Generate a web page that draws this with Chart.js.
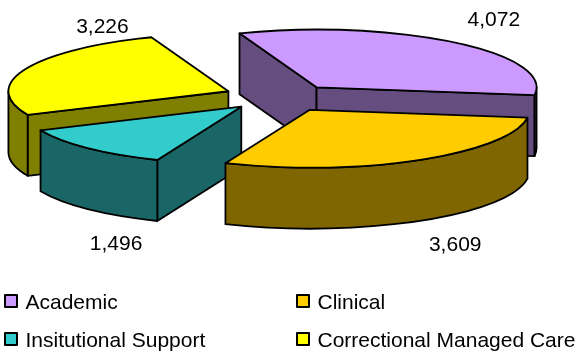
<!DOCTYPE html>
<html>
<head>
<meta charset="utf-8">
<style>
    html, body { margin: 0; padding: 0; background: #fff; }
    canvas { display: block; }
</style>
</head>
<body>
<canvas id="pie-chart" width="578" height="353"></canvas>
<script src="https://cdn.jsdelivr.net/npm/chart.js@4"></script>
<script>
let categorias = ['Academic', 'Clinical', 'Insitutional Support', 'Correctional Managed Care'];
let valores = [4072, 3609, 1496, 3226];
let coloresTapa = ['#CC99FF', '#FFCC00', '#33CCCC', '#FFFF00'];
let coloresLado = ['#664D80', '#806600', '#1A6666', '#808000'];

// back to front, so nearer slices cover the ones behind
let ordenDibujo = [0, 3, 2, 1];
// where each value label sits, relative to the middle of its slice rim
let ajusteEtiquetas = [[40, -20], [36, 85], [28, 95], [77, -42]];
// small vertical nudge per slice
let ajusteAlto = [2, 0, -1, 0];
// swatch corner for each legend entry
let posLeyenda = [[5, 295], [297, 295], [5, 333], [297, 333]];

const RADIO = 220;
const APLASTADO = 0.262;
const ALTO = 61;
const SEPARACION = 57;
const LINEA = 1.8;

const fuente = (size) => size + 'px "Liberation Sans", Arial, sans-serif';

const dibujarLados = (ctx, arc, ax, ay, i) => {
    let a0 = arc.startAngle;
    let a1 = arc.endAngle;
    let ry = RADIO * APLASTADO;
    ctx.fillStyle = coloresLado[i];

    const pared = (ang) => {
        let bx = ax + Math.cos(ang) * RADIO;
        let by = ay + Math.sin(ang) * ry;
        ctx.beginPath();
        ctx.moveTo(ax, ay);
        ctx.lineTo(bx, by);
        ctx.lineTo(bx, by + ALTO);
        ctx.lineTo(ax, ay + ALTO);
        ctx.closePath();
        ctx.fill();
        ctx.stroke();
    };

    // flat faces only show when they turn toward the viewer
    if (Math.sin(a0 - Math.PI / 2) > 0) pared(a0);
    if (Math.sin(a1 + Math.PI / 2) > 0) pared(a1);

    let ini = Math.max(a0, 0);
    let fin = Math.min(a1, Math.PI);
    if (fin > ini) {
        ctx.beginPath();
        ctx.ellipse(ax, ay, RADIO, ry, 0, ini, fin);
        ctx.ellipse(ax, ay + ALTO, RADIO, ry, 0, fin, ini, true);
        ctx.closePath();
        ctx.fill();
        ctx.stroke();
    }
};

const tartaPlugin = {
    id: 'tarta3d',
    beforeDatasetsDraw(chart) {
        let ctx = chart.ctx;
        let arcos = chart.getDatasetMeta(0).data;
        ctx.save();
        ctx.strokeStyle = '#000';
        ctx.lineWidth = LINEA;
        ctx.lineJoin = 'round';

        ordenDibujo.forEach((i) => {
            let arc = arcos[i];
            let medio = (arc.startAngle + arc.endAngle) / 2;
            let ax = arc.x + Math.cos(medio) * SEPARACION;
            let ay = arc.y + Math.sin(medio) * SEPARACION * APLASTADO + ajusteAlto[i];

            dibujarLados(ctx, arc, ax, ay, i);

            // the top face is the library's own arc, squashed into an ellipse
            ctx.save();
            ctx.translate(0, arc.y + ajusteAlto[i]);
            ctx.scale(1, APLASTADO);
            ctx.translate(0, -arc.y);
            ctx.translate(Math.cos(medio) * SEPARACION, Math.sin(medio) * SEPARACION);
            arc.draw(ctx);
            ctx.restore();

            ctx.beginPath();
            ctx.moveTo(ax, ay);
            ctx.ellipse(ax, ay, RADIO, RADIO * APLASTADO, 0, arc.startAngle, arc.endAngle);
            ctx.closePath();
            ctx.stroke();
        });

        // value labels
        ctx.fillStyle = '#000';
        ctx.font = fuente(21);
        ctx.textAlign = 'center';
        ctx.textBaseline = 'middle';
        arcos.forEach((arc, i) => {
            let medio = (arc.startAngle + arc.endAngle) / 2;
            let ax = arc.x + Math.cos(medio) * SEPARACION;
            let ay = arc.y + Math.sin(medio) * SEPARACION * APLASTADO;
            let tx = ax + Math.cos(medio) * RADIO + ajusteEtiquetas[i][0];
            let ty = ay + Math.sin(medio) * RADIO * APLASTADO + ajusteEtiquetas[i][1];
            ctx.fillText(valores[i].toLocaleString('en-US'), tx, ty);
        });

        // legend, two fixed columns
        ctx.font = fuente(21);
        ctx.textAlign = 'left';
        ctx.textBaseline = 'alphabetic';
        ctx.lineWidth = 2;
        categorias.forEach((nombre, i) => {
            let [lx, ly] = posLeyenda[i];
            ctx.fillStyle = coloresTapa[i];
            ctx.fillRect(lx, ly, 12, 12);
            ctx.strokeRect(lx, ly, 12, 12);
            ctx.fillStyle = '#000';
            ctx.fillText(nombre, lx + 20.5, ly + 14);
        });

        ctx.restore();
        return false;
    }
};

new Chart(document.getElementById('pie-chart'), {
    type: 'pie',
    data: {
        labels: categorias,
        datasets: [{
            data: valores,
            backgroundColor: coloresTapa,
            borderWidth: 0,
            rotation: -20.5,
            radius: RADIO
        }]
    },
    options: {
        responsive: false,
        animation: false,
        layout: { padding: { right: 16, bottom: 159 } },
        plugins: {
            legend: { display: false },
            tooltip: { enabled: false }
        }
    },
    plugins: [tartaPlugin]
});
</script>
</body>
</html>
